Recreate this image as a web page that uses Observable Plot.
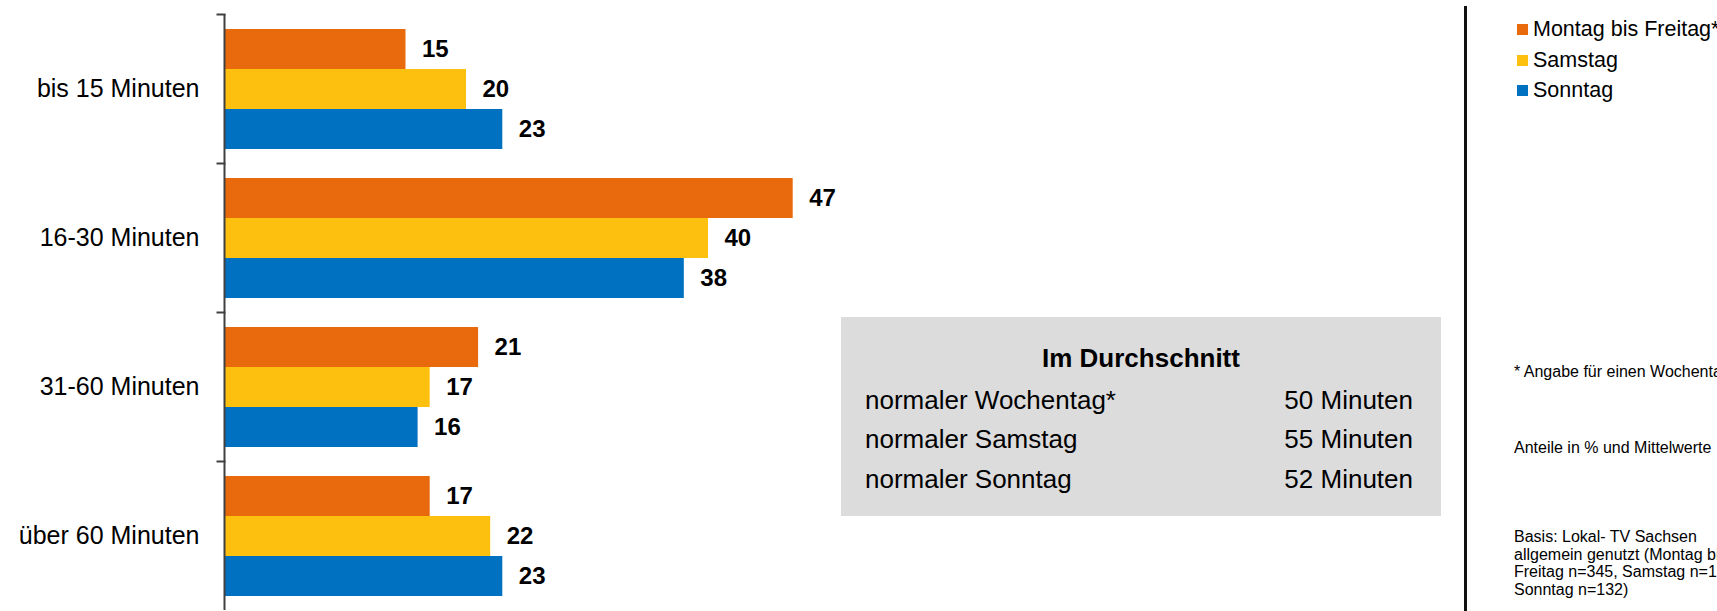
<!DOCTYPE html>
<html>
<head>
<meta charset="utf-8">
<script src="https://cdn.jsdelivr.net/npm/d3@7"></script>
<script src="https://cdn.jsdelivr.net/npm/@observablehq/plot@0.6"></script>
<style>
  html, body { margin: 0; padding: 0; background: #fff; overflow: hidden; }
  #wrap { position: relative; width: 1717px; height: 611px; overflow: hidden;
          font-family: "Liberation Sans", Arial, sans-serif; color: #000; }
  #wrap svg { position: absolute; left: 0; top: 0; }
  #box { position: absolute; left: 841px; top: 317px; width: 600px; height: 199px; background: #DCDCDC; }
  #box .row { position: absolute; height: 40px; line-height: 40px; font-size: 26px; white-space: nowrap; }
  #legend .item { position: absolute; left: 1517px; height: 30px; line-height: 30px; font-size: 21.5px; white-space: nowrap; }
  #legend .sw { display: inline-block; width: 11px; height: 11px; margin-right: 5px; vertical-align: 1px; }
  .note { position: absolute; left: 1514px; font-size: 16px; line-height: 17.5px; white-space: nowrap; }
</style>
</head>
<body>
<div id="wrap"></div>
<script>
// ---- data ----
const categories = ["bis 15 Minuten", "16-30 Minuten", "31-60 Minuten", "über 60 Minuten"];
const series = ["Montag bis Freitag*", "Samstag", "Sonntag"];
const colors = ["#E96A0C", "#FEC00F", "#0070C0"];
const montagBisFreitag = [15, 47, 21, 17];
const samstag = [20, 40, 17, 22];
const sonntag = [23, 38, 16, 23];
const averageTitle = "Im Durchschnitt";
const averageLabels = ["normaler Wochentag*", "normaler Samstag", "normaler Sonntag"];
const averageValues = ["50 Minuten", "55 Minuten", "52 Minuten"];
const noteStar = "* Angabe für einen Wochentag";
const noteUnits = "Anteile in % und Mittelwerte";
const noteBase = ["Basis: Lokal- TV Sachsen", "allgemein genutzt (Montag bis", "Freitag n=345, Samstag n=1", "Sonntag n=132)"];

const seriesValues = [montagBisFreitag, samstag, sonntag];
const rows = [];
categories.forEach((c, i) => series.forEach((s, j) => rows.push({category: c, series: s, value: seriesValues[j][i]})));

// ---- chart ----
const W = 1717, H = 611, mL = 224, mT = 12, mB = 0;
const mR = W - mL - 1210;
const font = "'Liberation Sans', Arial, sans-serif";

const chart = Plot.plot({
  width: W, height: H,
  marginLeft: mL, marginRight: mR, marginTop: mT, marginBottom: mB,
  style: {fontFamily: font, background: "transparent", overflow: "visible", color: "#000"},
  x: {domain: [0, 100], axis: null},
  y: {domain: series, paddingInner: 0, paddingOuter: 0.35, axis: null},
  fy: {domain: categories, padding: 0, axis: null, label: null},
  color: {domain: series, range: colors},
  marks: [
    Plot.barX(rows, {fy: "category", y: "series", x: "value", fill: "series"}),
    Plot.text(rows, {fy: "category", y: "series", x: "value", text: d => String(d.value),
      dx: 16, textAnchor: "start", fontWeight: "bold", fontSize: 24, fill: "#000"}),
    Plot.text(categories, {fy: d => d, text: d => d, frameAnchor: "left", dx: -25,
      textAnchor: "end", fontSize: 25, fill: "#000"}),
    Plot.ruleX([0], {stroke: "#404040", strokeWidth: 2}),
    Plot.frame({anchor: "top", insetLeft: -7, insetRight: W - mL - mR, stroke: "#404040", strokeWidth: 2})
  ]
});
const wrap = document.getElementById("wrap");
wrap.appendChild(chart);

// ---- average box ----
const box = document.createElement("div");
box.id = "box";
const title = document.createElement("div");
title.className = "row";
title.style.cssText = "left:0;right:0;text-align:center;font-weight:bold;top:21px;";
title.textContent = averageTitle;
box.appendChild(title);
const rowTops = [63, 102, 141.5];
averageLabels.forEach((lab, i) => {
  const l = document.createElement("div");
  l.className = "row";
  l.style.cssText = `left:24px;top:${rowTops[i]}px;`;
  l.textContent = lab;
  box.appendChild(l);
  const v = document.createElement("div");
  v.className = "row";
  v.style.cssText = `right:28px;top:${rowTops[i]}px;`;
  v.textContent = averageValues[i];
  box.appendChild(v);
});
wrap.appendChild(box);

// ---- divider ----
const div = document.createElement("div");
div.style.cssText = "position:absolute;left:1464px;top:6px;width:2.5px;bottom:0;background:#111;";
wrap.appendChild(div);

// ---- legend ----
const legend = document.createElement("div");
legend.id = "legend";
const legTops = [13.5, 44.5, 75];
series.forEach((s, i) => {
  const it = document.createElement("div");
  it.className = "item";
  it.style.top = legTops[i] + "px";
  it.innerHTML = `<span class="sw" style="background:${colors[i]}"></span>`;
  it.appendChild(document.createTextNode(s));
  legend.appendChild(it);
});
wrap.appendChild(legend);

// ---- notes ----
const n1 = document.createElement("div");
n1.className = "note"; n1.style.top = "363px"; n1.textContent = noteStar;
wrap.appendChild(n1);
const n2 = document.createElement("div");
n2.className = "note"; n2.style.top = "439px"; n2.textContent = noteUnits;
wrap.appendChild(n2);
const n3 = document.createElement("div");
n3.className = "note"; n3.style.top = "528px";
noteBase.forEach(line => { const d = document.createElement("div"); d.textContent = line; n3.appendChild(d); });
wrap.appendChild(n3);
</script>
</body>
</html>
